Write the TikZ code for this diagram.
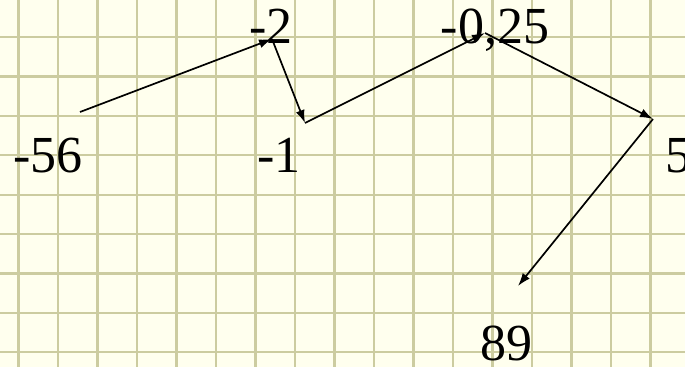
\documentclass[tikz,border=0pt]{standalone}
\usepackage{fontspec}
\setmainfont{Liberation Serif}
\usepackage{xcolor}
\usepackage{tikz}
\usetikzlibrary{arrows.meta}

\definecolor{paper}{RGB}{255,255,238}
\definecolor{gridline}{RGB}{204,204,160}

\begin{document}
\begin{tikzpicture}[x=1pt,y=-1pt,
  num/.style={inner sep=0pt,anchor=base,font=\fontsize{52}{60}\selectfont},
  jump/.style={line width=1.7pt,-{Latex[length=13pt,width=9pt]}}]
  \fill[paper] (0,0) rectangle (685,367);
  \useasboundingbox (0,0) rectangle (685,367);
  % squared paper
  \foreach \i in {0,...,16}
    \draw[gridline,line width=2.2pt] (18.5+39.5*\i,0) -- (18.5+39.5*\i,367);
  \foreach \j in {0,...,8}
    \draw[gridline,line width=2.2pt] (0,37+39.4*\j) -- (685,37+39.4*\j);
  % numbers
  \node[num] (n56) at (48,172) {-56};
  \node[num] (n2) at (271,43) {-2};
  \node[num] (n1) at (279,172) {-1};
  \node[num] (n025) at (495,43) {-0,25};
  \node[num] (n5) at (678,172) {5};
  \node[num] (n89) at (506,360) {89};
  % arrow ends
  \coordinate (c56) at (80,112);
  \coordinate (c2) at (272,39);
  \coordinate (c1) at (305,123);
  \coordinate (c025) at (485,33);
  \coordinate (c5) at (653,119);
  \coordinate (c89) at (518,286);
  \draw[jump] (c56) -- (c2);
  \draw[jump] (c2) -- (c1);
  \draw[jump] (c1) -- (c025);
  \draw[jump] (c025) -- (c5);
  \draw[jump] (c5) -- (c89);
\end{tikzpicture}
\end{document}
